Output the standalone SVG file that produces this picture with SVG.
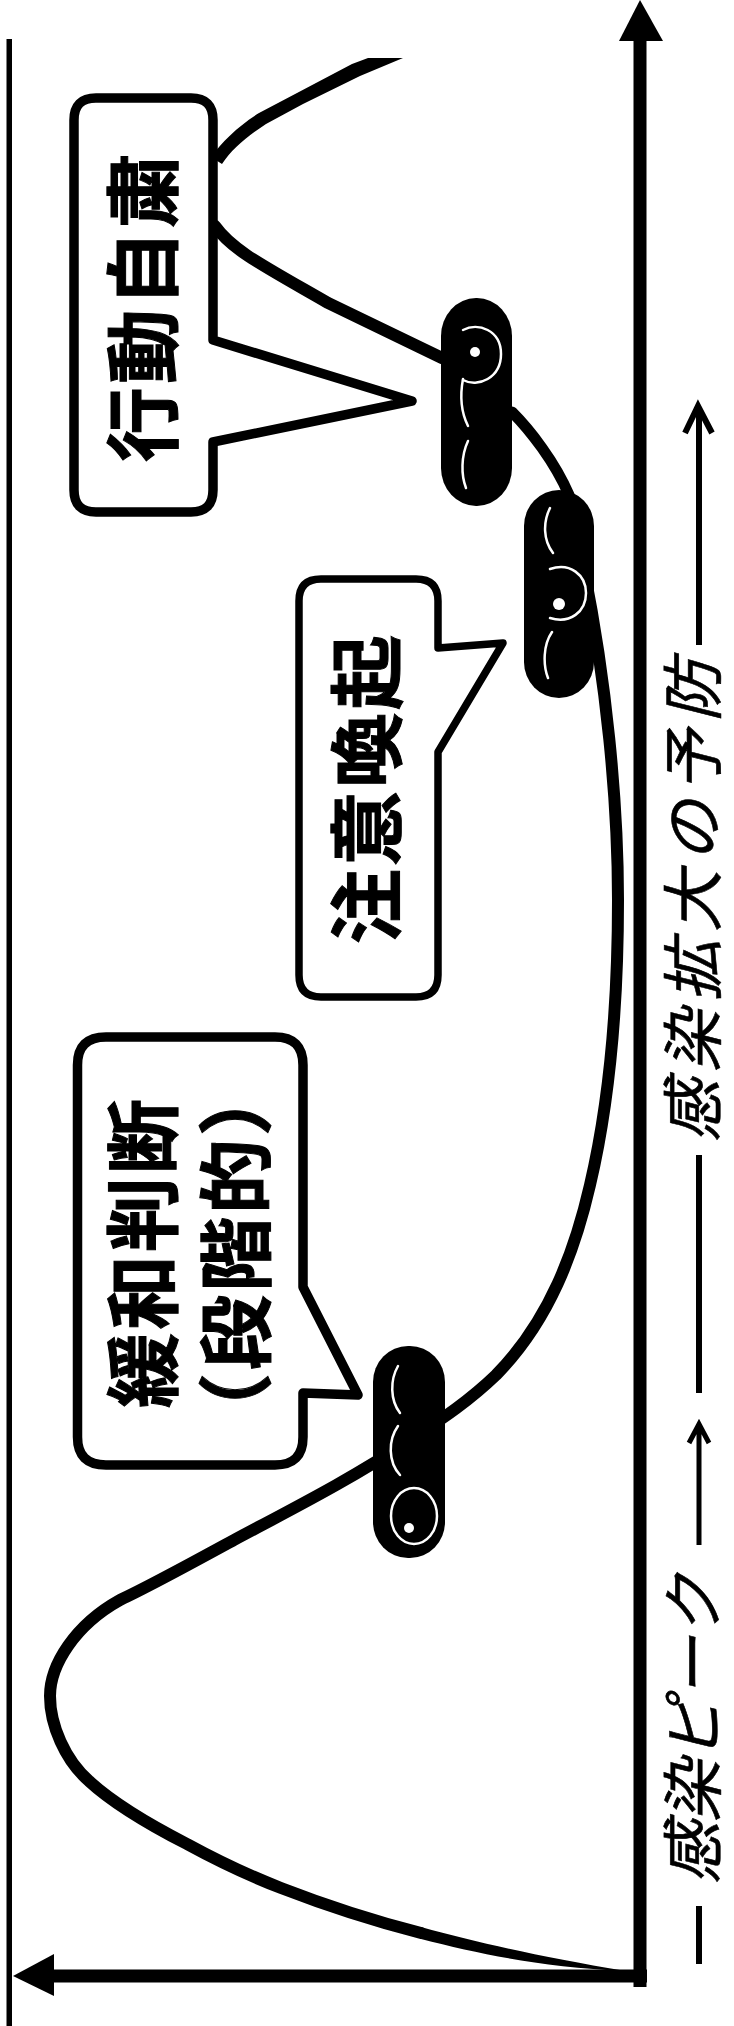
<svg xmlns="http://www.w3.org/2000/svg" width="734" height="2026" viewBox="0 0 734 2026">
<style>
.ax{fill:#000;stroke:none}
.cv{fill:none;stroke:#000;stroke-linecap:round}
.bub{fill:#fff;stroke:#000;stroke-linejoin:round}
.bean{fill:#000}
.w{fill:none;stroke:#fff;stroke-width:2.5;stroke-linecap:round}
.d{fill:#fff}
.lb{font-family:"Noto Sans CJK JP","Noto Sans CJK SC",sans-serif;font-weight:700;font-size:75px;letter-spacing:3px;text-anchor:middle;fill:#000;stroke:#000;stroke-width:1}
.it{font-family:"Noto Sans CJK JP","Noto Sans CJK SC",sans-serif;font-style:italic;font-weight:400;font-size:62px;text-anchor:middle;fill:#000;stroke:#000;stroke-width:.6}
.ar{stroke:#000;fill:none}
</style>
<rect width="734" height="2026" fill="#fff"/>
<g id="axes">
<rect class="ax" x="6.500" y="39" width="5.500" height="1987"/>
<rect class="ax" x="633.500" y="41" width="13" height="1946"/>
<polygon class="ax" points="640,0 663,41 619,41"/>
<rect class="ax" x="50" y="1969.500" width="597" height="13"/>
<polygon class="ax" points="13,1976 54,1954 54,1996"/>
</g>
<g id="connectors">
<path class="ax" d="M211 157C222 142 238 126 259 113L297 93L352 64L368 58L403 58L360 76L303 104L266 124C246 137 232 149 222 164Z"/>
<path class="cv" stroke-width="12" d="M215 226C232 250 262 265 328 303L442 358"/>
<path class="cv" stroke-width="11" d="M512 412C530 430 555 462 569 495"/>
<path class="cv" stroke-width="12" d="M584 570C606 680 618 800 618 900C618 1000 610 1100 590 1185C575 1250 550 1320 496 1375C470 1400 445 1417 410 1440C350 1480 290 1510 234 1540C190 1564 150 1586 120 1600C75 1625 50 1665 50 1696C50 1725 65 1760 89 1781C115 1805 150 1825 187 1844C220 1862 250 1876 281 1888C330 1907 370 1920 421 1933"/>
<path class="ax" d="M421 1927C480 1943 540 1957 626 1971C540 1967 480 1954 421 1939Z"/>
</g>
<g id="bubble-action">
<path class="bub" stroke-width="9.500" d="M96 98H191Q213 98 213 120V340L412 401L213 442V490Q213 512 191 512H96Q74 512 74 490V120Q74 98 96 98Z"/>
<text class="lb" transform="translate(171 306) rotate(-90)">行動自粛</text>
</g>
<g id="bubble-caution">
<path class="bub" stroke-width="7.500" d="M321 579H416Q438 579 438 601V648L503 643L438 752V975Q438 997 416 997H321Q299 997 299 975V601Q299 579 321 579Z"/>
<text class="lb" transform="translate(395 788) rotate(-90)">注意喚起</text>
</g>
<g id="bubble-relax">
<path class="bub" stroke-width="9.500" d="M106 1037H275Q303 1037 303 1065V1287L358 1395L303 1393V1437Q303 1465 275 1465H106Q77.500 1465 77.500 1437V1065Q77.500 1037 106 1037Z"/>
<text class="lb" transform="translate(171 1252) rotate(-90)">緩和判断</text>
<text class="lb" transform="translate(264 1253) rotate(-90)">（段階的）</text>
</g>
<g id="marker-1">
<rect class="bean" x="441" y="298" width="71" height="208" rx="35" ry="38"/>
<path class="w" d="M463 330C478 322 501 330 501 354C501 378 478 388 463 380"/>
<circle class="d" cx="475" cy="352" r="5"/>
<path class="w" d="M463 379C460 395 461 412 468 426M468 441C461 456 461 475 466 488"/>
</g>
<g id="marker-2">
<rect class="bean" x="524" y="490" width="70" height="208" rx="35" ry="36"/>
<path class="w" d="M550 508C543 522 543 540 553 553M552 632C543 645 543 665 548 678"/>
<path class="w" d="M550 569C570 562 586 575 586 593C586 612 570 624 550 618"/>
<circle class="d" cx="559" cy="604" r="6"/>
</g>
<g id="marker-3">
<rect class="bean" x="373" y="1346" width="72" height="212" rx="35" ry="36"/>
<path class="w" d="M398 1366C390 1380 390 1400 400 1413M398 1426C388 1440 388 1462 400 1475"/>
<ellipse class="w" cx="414" cy="1516" rx="23" ry="28"/>
<circle class="d" cx="409" cy="1528" r="5"/>
</g>
<g id="labels">
<text class="it" letter-spacing="8" transform="translate(715.500 897) rotate(-90)">感染拡大の予防</text>
<text class="it" letter-spacing="0" transform="translate(715.500 1729) rotate(-90)">感染ピーク</text>
</g>
<g id="timeline">
<line class="ar" stroke-width="6" x1="699" y1="1906" x2="699" y2="1964"/>
<line class="ar" stroke-width="6" x1="699" y1="1155" x2="699" y2="1393"/>
<path class="ar" stroke-width="5" d="M699 1545V1426M689 1443L699 1424L709 1443"/>
<path class="ar" stroke-width="6" d="M699 645V408M685 433L698 406L712 433"/>
</g>
</svg>
